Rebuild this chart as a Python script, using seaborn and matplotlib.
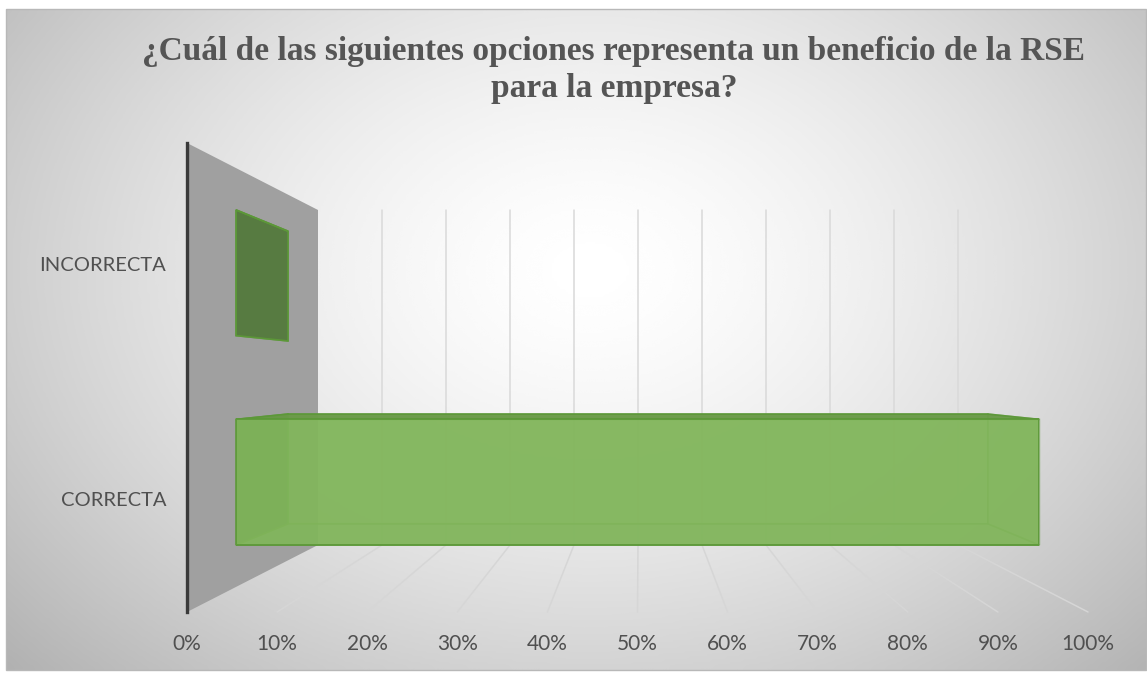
import numpy as np
import pandas as pd
import matplotlib
matplotlib.use("Agg")
import matplotlib.pyplot as plt
import matplotlib.transforms as mtransforms
import seaborn as sns
from matplotlib.patches import Polygon, Rectangle

# ---- data -------------------------------------------------------------
categorias = ["INCORRECTA", "CORRECTA"]
porcentajes = [0.0, 1.0]
ticks_x = [0.0, 0.1, 0.2, 0.3, 0.4, 0.5, 0.6, 0.7, 0.8, 0.9, 1.0]
etiquetas_x = ["0%", "10%", "20%", "30%", "40%", "50%", "60%", "70%", "80%", "90%", "100%"]
titulo = "¿Cuál de las siguientes opciones representa un beneficio de la RSE\npara la empresa?"

df = pd.DataFrame({"categoria": categorias, "valor": porcentajes})

# ---- figure / pixel canvas --------------------------------------------
W, H = 1147, 677
sns.set_theme(style="white")
plt.rcParams["font.family"] = ["Lato", "DejaVu Sans"]

fig = plt.figure(figsize=(W / 100, H / 100), dpi=100)
fig.patch.set_facecolor("white")

canvas = fig.add_axes([0, 0, 1, 1])
canvas.set_xlim(0, W)
canvas.set_ylim(H, 0)
canvas.axis("off")

# chart area with a soft radial gradient
FX0, FY0, FX1, FY1 = 6, 9, 1146, 670
gx, gy = np.meshgrid(np.linspace(FX0, FX1, 400), np.linspace(FY0, FY1, 240))
d = np.sqrt(((gx - 590) / 640) ** 2 + ((gy - 270) / 470) ** 2)
shade = 1 - 0.22 * np.clip(d, 0, 1.3) ** 1.5
canvas.imshow(shade, cmap="gray", vmin=0, vmax=1, extent=[FX0, FX1, FY1, FY0],
              aspect="auto", interpolation="bicubic", zorder=0)
canvas.add_patch(Rectangle((FX0, FY0), FX1 - FX0, FY1 - FY0, fill=False,
                           edgecolor="#b8b8b8", lw=1, zorder=1))

# ---- perspective box (pixel space) ------------------------------------
F_X0, F_X1, B_X0, B_X1 = 187, 1088, 318, 958      # 0% / 100% at front and back
F_TOP, F_BOT, B_TOP, B_BOT = 143, 612, 210, 545    # wall extent at front and back
S_FRONT, S_BACK = 0.374, 0.771                      # bar depth range
n_cat = len(categorias)


def proj(v, s, h):
    """value v, depth s (0 front .. 1 back), height h (0 floor .. 1 top) -> pixels"""
    x0 = F_X0 + (B_X0 - F_X0) * s
    span = (F_X1 - F_X0) + ((B_X1 - B_X0) - (F_X1 - F_X0)) * s
    ybot = F_BOT + (B_BOT - F_BOT) * s
    ytop = F_TOP + (B_TOP - F_TOP) * s
    return x0 + v * span, ybot - h * (ybot - ytop)


def cat_to_h(yc):
    return (n_cat - 0.5 - yc) / n_cat


# side wall
wall = [proj(0, 0, 1), proj(0, 1, 1), proj(0, 1, 0), proj(0, 0, 0)]
canvas.add_patch(Polygon(wall, closed=True, facecolor="#a0a0a0", edgecolor="none", zorder=2))

# back-wall gridlines and floor gridlines
for t in ticks_x[1:]:
    xa, ya = proj(t, 1, 0)
    xb, yb = proj(t, 1, 1)
    canvas.plot([xa, xb], [ya, yb], color="#d9d9d9", lw=1.1, zorder=2)
    xf, yf = proj(t, 0, 0)
    canvas.plot([xf, xa], [yf, ya], color="#d6d6d6", lw=1.1, zorder=2)

# ---- front plane axes: ticks, labels, dark axis line --------------------
def fig_rect(x_left, x_right, y_top, y_bot):
    return [x_left / W, 1 - y_bot / H, (x_right - x_left) / W, (y_bot - y_top) / H]


ax_front = fig.add_axes(fig_rect(F_X0, F_X1, F_TOP, F_BOT))
ax_front.set_facecolor("none")
ax_front.set_xlim(0, 1)
ax_front.set_ylim(n_cat - 0.5, -0.5)
ax_front.set_xticks(ticks_x)
ax_front.set_xticklabels(etiquetas_x)
ax_front.set_yticks(range(n_cat))
ax_front.set_yticklabels(categorias)
ax_front.tick_params(axis="x", length=0, pad=16, labelsize=15, labelcolor="#505050")
ax_front.tick_params(axis="y", length=0, pad=15, labelsize=14.5, labelcolor="#505050")
shift_down = mtransforms.ScaledTranslation(0, -4 / 100, fig.dpi_scale_trans)
for lab in ax_front.get_yticklabels():
    lab.set_transform(lab.get_transform() + shift_down)
for side in ["top", "right", "bottom"]:
    ax_front.spines[side].set_visible(False)
ax_front.spines["left"].set_color("#3a3a3a")
ax_front.spines["left"].set_linewidth(2.4)
ax_front.grid(False)

# ---- bars: front faces through seaborn on the plane at bar depth -------
bx0, by0 = proj(0, S_FRONT, 0)
bx1, by1 = proj(1, S_FRONT, 1)
ax_bar = fig.add_axes(fig_rect(bx0, bx1, by1, by0))
ax_bar.set_facecolor("none")
sns.barplot(data=df, x="valor", y="categoria", orient="h", ax=ax_bar, width=0.6,
            color="#82b65c", alpha=0.9, edgecolor="#5c9838", linewidth=1.4,
            saturation=1, errorbar=None)
ax_bar.set_xlim(0, 1)
ax_bar.set_ylim(n_cat - 0.5, -0.5)
ax_bar.axis("off")

# remaining faces of each bar, derived from the seaborn rectangles
edge = "#5c9838"
for p in ax_bar.patches:
    v0, v1 = p.get_x(), p.get_x() + p.get_width()
    h_hi = cat_to_h(p.get_y())
    h_lo = cat_to_h(p.get_y() + p.get_height())

    back = [proj(v0, S_BACK, h_hi), proj(v1, S_BACK, h_hi),
            proj(v1, S_BACK, h_lo), proj(v0, S_BACK, h_lo)]
    bottom = [proj(v0, S_FRONT, h_lo), proj(v1, S_FRONT, h_lo),
              proj(v1, S_BACK, h_lo), proj(v0, S_BACK, h_lo)]
    right = [proj(v1, S_FRONT, h_hi), proj(v1, S_BACK, h_hi),
             proj(v1, S_BACK, h_lo), proj(v1, S_FRONT, h_lo)]
    left = [proj(v0, S_FRONT, h_hi), proj(v0, S_BACK, h_hi),
            proj(v0, S_BACK, h_lo), proj(v0, S_FRONT, h_lo)]
    top = [proj(v0, S_FRONT, h_hi), proj(v1, S_FRONT, h_hi),
           proj(v1, S_BACK, h_hi), proj(v0, S_BACK, h_hi)]

    canvas.add_patch(Polygon(back, facecolor="#82b65c", alpha=0.55, edgecolor=edge, lw=1.2, zorder=3))
    canvas.add_patch(Polygon(bottom, facecolor="#78ab55", alpha=0.5, edgecolor=edge, lw=1.2, zorder=3.1))
    canvas.add_patch(Polygon(right, facecolor="#78ab55", alpha=0.5, edgecolor=edge, lw=1.2, zorder=3.2))
    canvas.add_patch(Polygon(left, facecolor="#55793e", alpha=0.95, edgecolor=edge, lw=1.2, zorder=3.3))
    canvas.add_patch(Polygon(top, facecolor="#6a9a48", alpha=0.95, edgecolor=edge, lw=1.2, zorder=3.4))

# ---- title ------------------------------------------------------------
fig.text(614 / W, 1 - 70 / H, titulo, ha="center", va="center",
         fontsize=24, fontweight="bold", color="#555555",
         family=["Liberation Serif", "DejaVu Serif"], linespacing=1.25)

fig.savefig("out.png", dpi=100)
